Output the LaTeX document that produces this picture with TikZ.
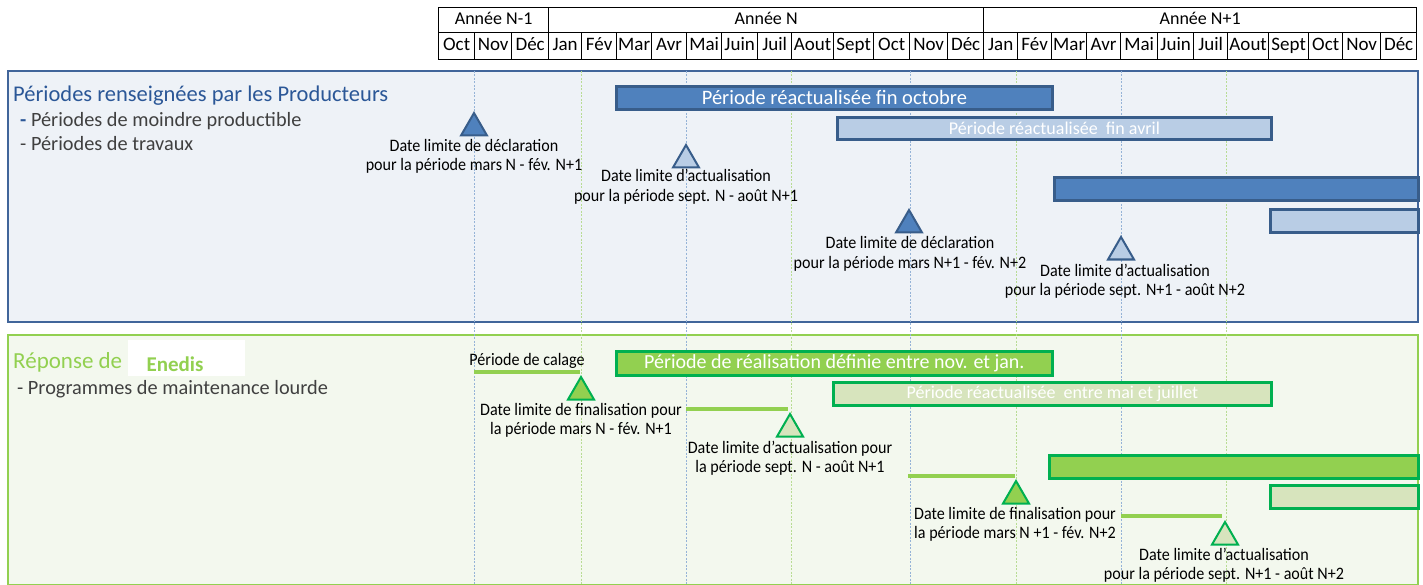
\documentclass[tikz,border=0pt]{standalone}
\usepackage{fontspec}
\setmainfont{Carlito}
\newfontfamily\narrowfont[FakeStretch=0.92]{Carlito}
\usetikzlibrary{shapes.geometric}
\definecolor{topborder}{HTML}{41659A}
\definecolor{topfill}{HTML}{EEF2F7}
\definecolor{titleblue}{HTML}{2B5797}
\definecolor{subgray}{HTML}{404040}
\definecolor{darkbar}{HTML}{4F81BD}
\definecolor{darkedge}{HTML}{385D8A}
\definecolor{lightbar}{HTML}{B9CDE5}
\definecolor{botborder}{HTML}{92D050}
\definecolor{botfill}{HTML}{F3F8EE}
\definecolor{greenbar}{HTML}{92D050}
\definecolor{greenedge}{HTML}{00B050}
\definecolor{palegreen}{HTML}{D7E4BD}
\definecolor{dashblue}{HTML}{95B3D7}
\definecolor{dashgreen}{HTML}{B8DC94}
\tikzset{
  cell/.style={draw=black, line width=1.3pt, inner sep=0pt, text height=12.5pt, text depth=3.5pt, font=\fontsize{19}{22}\selectfont},
  yearcell/.style={cell, font=\fontsize{18}{21}\selectfont},
  panel/.style={line width=2pt, anchor=north west, inner sep=0pt},
  bar/.style={anchor=north west, inner sep=0pt, line width=2.8pt, text=white,
    font=\fontsize{20.5}{22}\selectfont},
  darkbarbox/.style={bar, draw=darkedge, fill=darkbar},
  lightbarbox/.style={bar, draw=darkedge, fill=lightbar, font=\fontsize{18}{20}\selectfont},
  greenbarbox/.style={bar, draw=greenedge, fill=greenbar},
  palebarbox/.style={bar, draw=greenedge, fill=palegreen, font=\fontsize{18}{20}\selectfont},
  marker/.style={regular polygon, regular polygon sides=3, minimum size=30pt, inner sep=0pt, line width=2pt},
  darktri/.style={marker, draw=darkedge, fill=darkbar},
  lighttri/.style={marker, draw=darkedge, fill=lightbar},
  greentri/.style={marker, draw=greenedge, fill=greenbar},
  paletri/.style={marker, draw=greenedge, fill=palegreen},
  note/.style={align=center, inner sep=0pt, text=black, font=\narrowfont\fontsize{17.5}{19.5}\selectfont},
  gridblue/.style={draw=dashblue, line width=0.6pt, dash pattern=on 2pt off 1.5pt},
  gridgreen/.style={draw=dashgreen, line width=0.6pt, dash pattern=on 2pt off 1.5pt},
  calage/.style={draw=greenbar, line width=4pt},
  sub/.style={anchor=base west, inner sep=0pt, text=subgray, font=\fontsize{20.3}{24}\selectfont},
}
\begin{document}
\begin{tikzpicture}[x=1pt,y=-1pt]
\useasboundingbox (0,0) rectangle (1423,585);
% panels
\node[panel, draw=topborder, fill=topfill, minimum width=1410pt, minimum height=251pt] (toppanel) at (7,70) {};
\node[panel, draw=botborder, fill=botfill, minimum width=1410pt, minimum height=250pt] (botpanel) at (7,334) {};
% vertical guide lines
\foreach \x/\s [count=\i] in {474/gridblue,581/gridgreen,686/gridblue,791/gridgreen,910/gridblue,1016/gridgreen,1121/gridblue,1226/gridgreen}{
  \coordinate (g\i a) at (\x,71);
  \coordinate (g\i b) at (\x,585);
  \draw[\s] (g\i a) -- (g\i b);
}
% header: years
\foreach \a/\b/\t [count=\i] in {438/548/Année N-1,548/983/Année N,983/1416/Année N+1}{
  \pgfmathsetmacro\w{\b-\a}
  \node[yearcell, minimum width=\w pt, minimum height=25pt, anchor=north west] (y\i) at (\a,7) {\t};
}
% header: months
\foreach \a/\b/\t [count=\i] in {438/474/Oct,474/511/Nov,511/548/Déc,548/581/Jan,581/616/Fév,616/651/Mar,651/686/Avr,686/721/Mai,721/757/Juin,757/791/Juil,791/833/Aout,833/873/Sept,873/909/Oct,909/947/Nov,947/983/Déc,983/1017/Jan,1017/1051/Fév,1051/1086/Mar,1086/1120/Avr,1120/1157/Mai,1157/1193/Juin,1193/1227/Juil,1227/1268/Aout,1268/1308/Sept,1308/1342/Oct,1342/1380/Nov,1380/1416/Déc}{
  \pgfmathsetmacro\w{\b-\a}
  \node[cell, minimum width=\w pt, minimum height=27pt, anchor=north west] (m\i) at (\a,32) {\t};
}
% top panel texts
\node[anchor=base west, inner sep=0pt, text=titleblue, font=\fontsize{22.5}{26}\selectfont] (toptitle) at (13,102) {Périodes renseignées par les Producteurs};
\node[sub] (sub1) at (20,127) {\textcolor{titleblue}{\textbf{-}} Périodes de moindre productible};
\node[sub] (sub2) at (20,151) {- Périodes de travaux};
% top bars
\node[darkbarbox, minimum width=436pt, minimum height=23pt] (b1) at (615,85) {Période réactualisée fin octobre};
\node[lightbarbox, minimum width=434pt, minimum height=22pt] (b2) at (836,116) {Période réactualisée\ \ fin avril};
\node[darkbarbox, minimum width=364pt, minimum height=23pt] (b3) at (1053,176) {};
\node[lightbarbox, minimum width=148pt, minimum height=23pt] (b4) at (1269,208) {};
% top markers
\node[darktri] (t1) at (474,128) {};
\node[note] (n1) at (474,156.5) {Date limite de déclaration\\pour la période mars N - fév. N+1};
\node[lighttri] (t2) at (686,160) {};
\node[note] (n2) at (686,186.5) {Date limite d’actualisation\\pour la période sept. N - août N+1};
\node[darktri] (t3) at (909,225) {};
\node[note] (n3) at (910,254) {Date limite de déclaration\\pour la période mars N+1 - fév. N+2};
\node[lighttri] (t4) at (1121,252) {};
\node[note] (n4) at (1125,281) {Date limite d’actualisation\\pour la période sept. N+1 - août N+2};
% bottom panel texts
\node[anchor=base west, inner sep=0pt, text=botborder, font=\fontsize{23}{26}\selectfont] (bottitle) at (13,368) {Réponse de};
\node[anchor=north west, fill=white, minimum width=117pt, minimum height=36pt, inner sep=0pt] (enedisbox) at (128,340) {};
\node[anchor=base, inner sep=0pt, text=botborder, font=\bfseries\fontsize{21}{24}\selectfont] (enedis) at (175,371) {Enedis};
\node[sub] (sub3) at (17,394) {- Programmes de maintenance lourde};
% bottom bars
\node[greenbarbox, minimum width=436pt, minimum height=24pt, font=\fontsize{20}{22}\selectfont] (b5) at (615,350) {Période de réalisation définie entre nov. et jan.};
\node[palebarbox, minimum width=438pt, minimum height=23pt] (b6) at (832,381) {Période réactualisée\ \ entre mai et juillet};
\node[greenbarbox, minimum width=369pt, minimum height=23pt] (b7) at (1048,454) {};
\node[palebarbox, minimum width=148pt, minimum height=23pt] (b8) at (1269,484) {};
% bottom markers and calage lines
\node[note] (calagelabel) at (527,361) {Période de calage};
\coordinate (c1a) at (474,372); \coordinate (c1b) at (580,372);
\draw[calage] (c1a) -- (c1b);
\node[greentri] (t5) at (581,392) {};
\node[note] (n5) at (581,420.5) {Date limite de finalisation pour\\la période mars N - fév. N+1};
\coordinate (c2a) at (686,409); \coordinate (c2b) at (788,409);
\draw[calage] (c2a) -- (c2b);
\node[paletri] (t6) at (790,429) {};
\node[note] (n6) at (790,458) {Date limite d’actualisation pour\\la période sept. N - août N+1};
\coordinate (c3a) at (908,476); \coordinate (c3b) at (1015,476);
\draw[calage] (c3a) -- (c3b);
\node[greentri] (t7) at (1016,496) {};
\node[note] (n7) at (1015,524.5) {Date limite de finalisation pour\\la période mars N +1 - fév. N+2};
\coordinate (c4a) at (1121,516); \coordinate (c4b) at (1222,516);
\draw[calage] (c4a) -- (c4b);
\node[paletri] (t8) at (1225,537) {};
\node[note] (n8) at (1224,565) {Date limite d’actualisation\\pour la période sept. N+1 - août N+2};
\end{tikzpicture}
\end{document}
